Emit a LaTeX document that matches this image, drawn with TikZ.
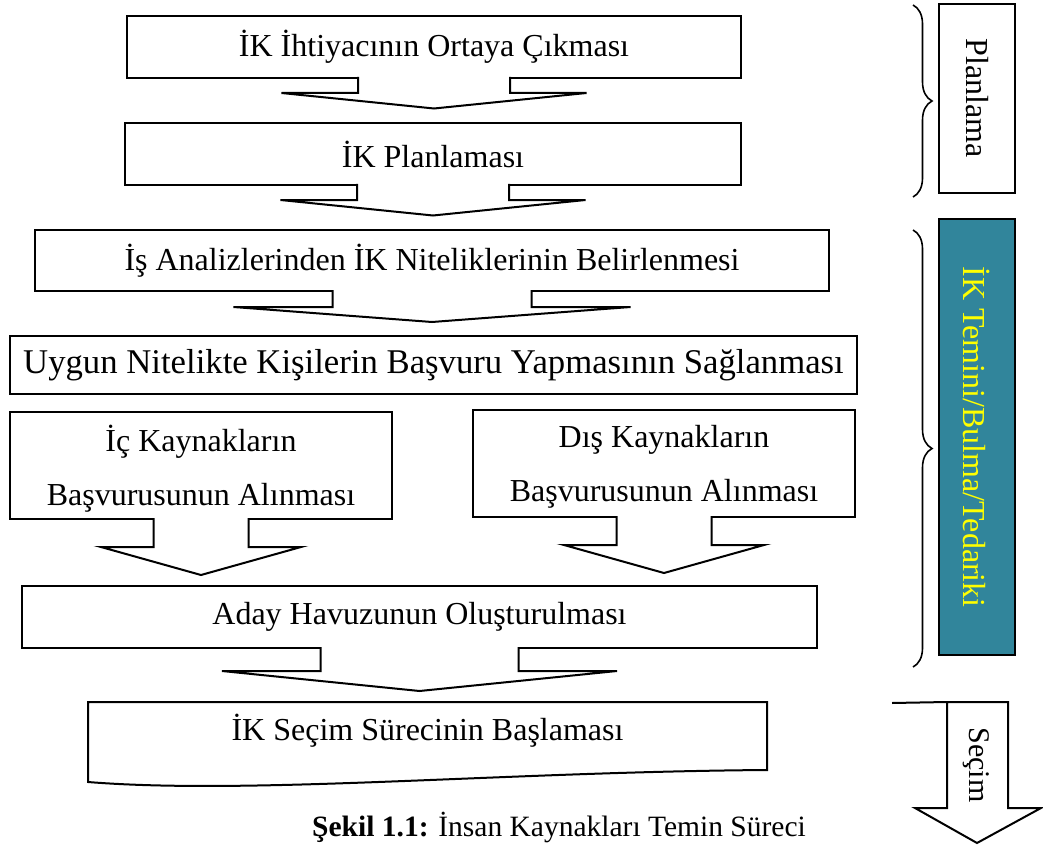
\documentclass[tikz,border=0pt]{standalone}
\usepackage{fontspec}
\setmainfont{Liberation Serif}
\usepackage{xcolor}
\definecolor{ikteal}{RGB}{49,133,155}
\definecolor{ikyellow}{RGB}{255,255,0}
\usepackage{tikz}
\usetikzlibrary{calc}
\usetikzlibrary{decorations.pathreplacing}
\newcommand{\boxfont}{\fontsize{32}{54}\selectfont}
% block arrow below a box: node, half stem, half wing, stem length, head length
\newcommand{\flowarrow}[5]{%
    \fill[white] ($(#1.south)+(-#2,-1.5)$) rectangle ($(#1.south)+(#2,1.5)$);
    \draw[outline] ($(#1.south)+(-#2,-1)$) -- ($(#1.south)+(-#2,#4)$)
        -- ($(#1.south)+(-#3,#4)$) -- ($(#1.south)+(0,{#4+#5})$)
        -- ($(#1.south)+(#3,#4)$) -- ($(#1.south)+(#2,#4)$)
        -- ($(#1.south)+(#2,-1)$);
}
\tikzset{
    outline/.style={line width=2pt, line join=miter},
    box/.style={draw, rectangle, line width=2pt, outer sep=0pt, inner sep=0pt, align=center, font=\boxfont},
    sidebox/.style={box, rotate=-90},
    brace/.style={decorate, decoration={brace, amplitude=19pt}, line width=1.6pt}
}

\begin{document}
\begin{tikzpicture}[x=1pt, y=-1pt]
    \useasboundingbox (0,0) rectangle (1043,845);

    \node[box, minimum width=614pt, minimum height=62pt] (ihtiyac) at (434,47) {İK İhtiyacının Ortaya Çıkması};
    \node[box, minimum width=616pt, minimum height=62pt] (plan) at (433,154) {İK Planlaması};
    \node[box, minimum width=794pt, minimum height=61pt] (analiz) at (432,260.5) {İş Analizlerinden İK Niteliklerinin Belirlenmesi};
    \node[box, minimum width=847pt, minimum height=58pt, font=\fontsize{34.7}{42}\selectfont] (basvuru) at (433.5,365) {Uygun Nitelikte Kişilerin Başvuru Yapmasının Sağlanması};
    \node[box, minimum width=382pt, minimum height=107pt, text depth=0pt] (ic) at (201,465.5) {İç Kaynakların\\Başvurusunun Alınması};
    \node[box, minimum width=382pt, minimum height=107pt, text depth=0pt] (dis) at (664,463.5) {Dış Kaynakların\\Başvurusunun Alınması};
    \node[box, minimum width=795pt, minimum height=62pt] (aday) at (419.5,617) {Aday Havuzunun Oluşturulması};
    \node[font=\boxfont, inner sep=0pt] (secim) at (427.5,731) {İK Seçim Sürecinin Başlaması};

    % document shape round the last step
    \draw[outline] (88,702) -- (767,702) -- (767,770)
        .. controls (500,772) and (250,795) .. (88,782) -- cycle;

    \flowarrow{ihtiyac}{76}{152.5}{15}{15.5}
    \flowarrow{plan}{76}{152.5}{15}{15.5}
    \flowarrow{analiz}{99.5}{198.5}{16}{15}
    \flowarrow{ic}{47.5}{100}{28}{28}
    \flowarrow{dis}{47.5}{100}{28}{28}
    \flowarrow{aday}{99}{197.5}{23}{20}

    % phases on the right
    \node[sidebox, minimum width=189pt, minimum height=76pt] (planlama) at (977,98.5) {Planlama};
    \node[sidebox, fill=ikteal, text=ikyellow, minimum width=436pt, minimum height=76pt] (temin) at (977,437) {İK Temini/Bulma/Tedariki};
    \draw[brace] (913,5) -- (913,197);
    \draw[brace] (913,230) -- (913,667);

    \coordinate (secimbas) at (892,703);
    \draw[outline] (947,702) -- (1008,702) -- (1008,808) -- (1041,808) -- (977,843)
        -- (915,808) -- (947,808) -- cycle;
    \draw[outline] (secimbas) -- (947,702);
    \node[font=\fontsize{30}{36}\selectfont, rotate=-90, inner sep=0pt] (secimyazi) at (976,765) {Seçim};

    \node[anchor=base west, font=\fontsize{29.5}{36}\selectfont, inner sep=0pt] (sekil) at (312,836) {\textbf{Şekil 1.1:} İnsan Kaynakları Temin Süreci};
\end{tikzpicture}
\end{document}
